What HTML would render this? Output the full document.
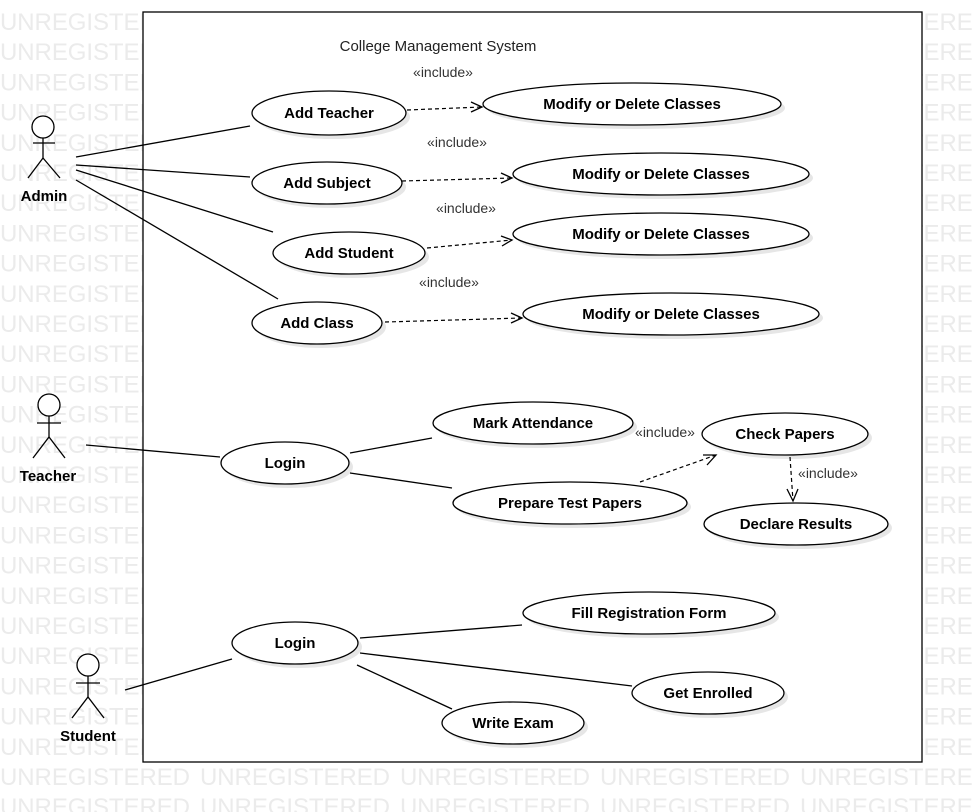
<!DOCTYPE html>
<html><head><meta charset="utf-8"><style>
html,body{margin:0;padding:0;background:#fff;width:972px;height:812px;overflow:hidden}
svg{display:block}
.wm{font-family:"Liberation Sans",sans-serif;font-size:24px;fill:#ebebeb}
.uc{font-family:"Liberation Sans",sans-serif;font-size:15px;font-weight:bold;fill:#000;text-anchor:middle}
.inc{font-family:"Liberation Sans",sans-serif;font-size:14px;fill:#333;text-anchor:middle}
.l{stroke:#000;stroke-width:1.3;fill:none}
.d{stroke:#000;stroke-width:1.2;fill:none;stroke-dasharray:4,3}
</style></head><body>
<svg width="972" height="812" xmlns="http://www.w3.org/2000/svg">
<g id="wm"></g>
<rect x="143" y="12" width="779" height="750" fill="#fff" stroke="#000" stroke-width="1.3"/>
<text x="438" y="51" font-family="Liberation Sans, sans-serif" font-size="15" text-anchor="middle" fill="#222">College Management System</text>
<g id="ell"></g>
<!-- actor lines -->
<line class="l" x1="76" y1="157" x2="250" y2="126"/>
<line class="l" x1="76" y1="165" x2="250" y2="177"/>
<line class="l" x1="76" y1="170" x2="273" y2="232"/>
<line class="l" x1="76" y1="180" x2="278" y2="299"/>
<line class="l" x1="86" y1="445" x2="220" y2="457"/>
<line class="l" x1="350" y1="453" x2="432" y2="438"/>
<line class="l" x1="350" y1="473" x2="452" y2="488"/>
<line class="l" x1="125" y1="690" x2="232" y2="659"/>
<line class="l" x1="360" y1="638" x2="522" y2="625"/>
<line class="l" x1="360" y1="653" x2="632" y2="686"/>
<line class="l" x1="357" y1="665" x2="452" y2="709"/>
<!-- dashed -->
<line class="d" x1="407" y1="110" x2="482" y2="107"/>
<polyline class="l" points="471,102 482,107 471,112"/>
<line class="d" x1="402" y1="181" x2="512" y2="178"/>
<polyline class="l" points="501,173 512,178 501,183"/>
<line class="d" x1="427" y1="248" x2="512" y2="240"/>
<polyline class="l" points="501,236 512,240 502,246"/>
<line class="d" x1="385" y1="322" x2="522" y2="318"/>
<polyline class="l" points="511,313 522,318 511,323"/>
<line class="d" x1="640" y1="482" x2="716" y2="455"/>
<polyline class="l" points="703,455 716,455 707,465"/>
<line class="d" x1="790" y1="457" x2="793" y2="501"/>
<polyline class="l" points="787,489 793,501 798,489"/>
<text class="inc" x="443" y="77">«include»</text>
<text class="inc" x="457" y="147">«include»</text>
<text class="inc" x="466" y="213">«include»</text>
<text class="inc" x="449" y="287">«include»</text>
<text class="inc" x="665" y="437">«include»</text>
<text class="inc" x="828" y="478">«include»</text>
<!-- actors -->
<g class="l">
<circle cx="43" cy="127" r="11" fill="#fff"/><line x1="43" y1="138" x2="43" y2="158"/><line x1="33" y1="143" x2="55" y2="143"/><polyline points="28,178 43,158 60,178"/>
<circle cx="49" cy="405" r="11" fill="#fff"/><line x1="49" y1="416" x2="49" y2="437"/><line x1="37" y1="423" x2="61" y2="423"/><polyline points="33,458 49,437 65,458"/>
<circle cx="88" cy="665" r="11" fill="#fff"/><line x1="88" y1="676" x2="88" y2="697"/><line x1="76" y1="683" x2="100" y2="683"/><polyline points="72,718 88,697 104,718"/>
</g>
<text class="uc" x="44" y="201">Admin</text>
<text class="uc" x="48" y="481">Teacher</text>
<text class="uc" x="88" y="741">Student</text>
</svg>
<script>
var ns="http://www.w3.org/2000/svg";
var wm=document.getElementById("wm");
for(var k=0;k<27;k++){for(var j=0;j<5;j++){var t=document.createElementNS(ns,"text");t.setAttribute("class","wm");t.setAttribute("x",j*200);t.setAttribute("y",30+k*30.2);t.setAttribute("textLength","190");t.textContent="UNREGISTERED";wm.appendChild(t);}}
var E=[[329,113,77,22,"Add Teacher"],[632,104,149,21,"Modify or Delete Classes"],[327,183,75,21,"Add Subject"],[661,174,148,21,"Modify or Delete Classes"],[349,253,76,21,"Add Student"],[661,234,148,21,"Modify or Delete Classes"],[317,323,65,21,"Add Class"],[671,314,148,21,"Modify or Delete Classes"],[285,463,64,21,"Login"],[533,423,100,21,"Mark Attendance"],[785,434,83,21,"Check Papers"],[570,503,117,21,"Prepare Test Papers"],[796,524,92,21,"Declare Results"],[295,643,63,21,"Login"],[649,613,126,21,"Fill Registration Form"],[708,693,76,21,"Get Enrolled"],[513,723,71,21,"Write Exam"]];
var g=document.getElementById("ell");
E.forEach(function(e){
var s=document.createElementNS(ns,"ellipse");s.setAttribute("cx",e[0]+4);s.setAttribute("cy",e[1]+4);s.setAttribute("rx",e[2]);s.setAttribute("ry",e[3]);s.setAttribute("fill","#e6e6e6");g.appendChild(s);
var a=document.createElementNS(ns,"ellipse");a.setAttribute("cx",e[0]);a.setAttribute("cy",e[1]);a.setAttribute("rx",e[2]);a.setAttribute("ry",e[3]);a.setAttribute("fill","#fff");a.setAttribute("stroke","#000");a.setAttribute("stroke-width","1.3");g.appendChild(a);
var t=document.createElementNS(ns,"text");t.setAttribute("class","uc");t.setAttribute("x",e[0]);t.setAttribute("y",e[1]+5);t.textContent=e[4];g.appendChild(t);});
</script>
</body></html>
